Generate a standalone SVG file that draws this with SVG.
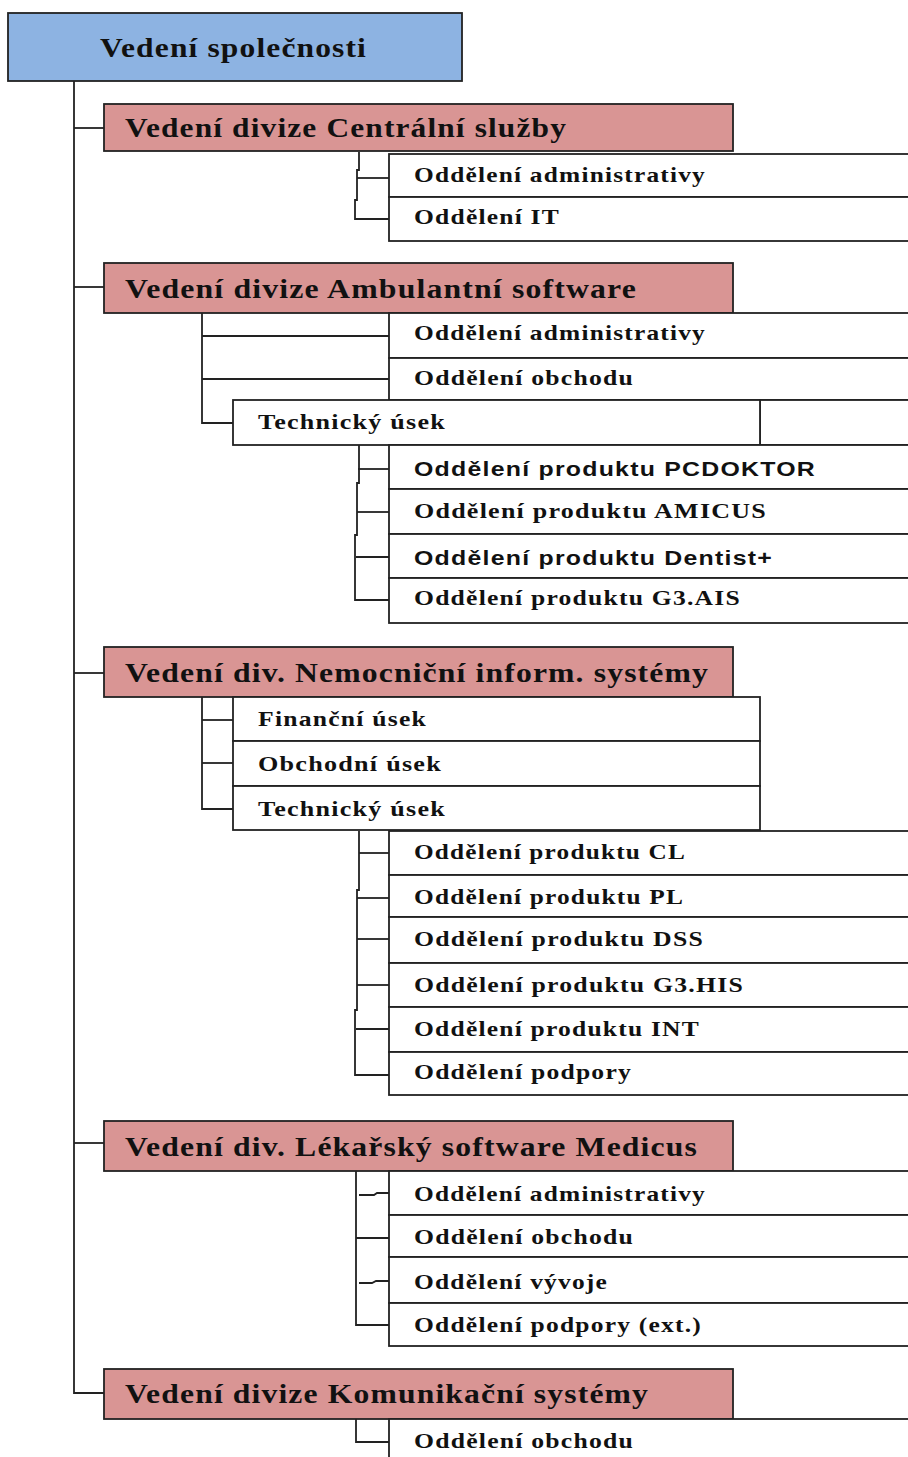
<svg xmlns="http://www.w3.org/2000/svg" width="908" height="1457" viewBox="0 0 908 1457">
<style>
.box{fill:#ffffff;stroke:#222;stroke-width:1.8}
.top{fill:#8db3e2;stroke:#222;stroke-width:1.8}
.div{fill:#d99594;stroke:#222;stroke-width:1.8}
.ln{fill:none;stroke:#222;stroke-width:1.8}
.t1{font-family:"Liberation Serif","Times New Roman",serif;font-weight:bold;font-size:28px;letter-spacing:1px;fill:#111}
.t2{font-family:"Liberation Serif","Times New Roman",serif;font-weight:bold;font-size:21px;letter-spacing:1px;fill:#111}
.t3{font-family:"Liberation Sans",Arial,sans-serif;font-weight:bold;font-size:20px;letter-spacing:1px;fill:#111}
</style>
<rect width="908" height="1457" fill="#ffffff"/>
<g id="connectors">
<path class="ln" d="M74 81 V1393 H104"/>
<path class="ln" d="M74 128 H104"/>
<path class="ln" d="M74 287 H104"/>
<path class="ln" d="M74 673 H104"/>
<path class="ln" d="M74 1143 H104"/>
<path class="ln" d="M359 152 V170 H357 V200 H355 V219 H389"/>
<path class="ln" d="M357 178 H389"/>
<path class="ln" d="M202 313 V423 H233"/>
<path class="ln" d="M202 336 H389"/>
<path class="ln" d="M202 379 H389"/>
<path class="ln" d="M359 445 V483 H357 V535 H355 V600 H389"/>
<path class="ln" d="M358 469 H389"/>
<path class="ln" d="M357 512 H389"/>
<path class="ln" d="M356 557 H389"/>
<path class="ln" d="M202 697 V809 H233"/>
<path class="ln" d="M202 720 H233"/>
<path class="ln" d="M202 763 H233"/>
<path class="ln" d="M359 831 V890 H357 V1010 H355 V1075 H389"/>
<path class="ln" d="M359 853 H389"/>
<path class="ln" d="M357 898 H389"/>
<path class="ln" d="M357 939 H389"/>
<path class="ln" d="M357 985 H389"/>
<path class="ln" d="M356 1029 H389"/>
<path class="ln" d="M356 1171 V1325 H389"/>
<path class="ln" d="M359 1195 H374 L377 1193 H389"/>
<path class="ln" d="M356 1238 H389"/>
<path class="ln" d="M359 1283 H372 L376 1281 H389"/>
<path class="ln" d="M356 1419 V1442 H389"/>
</g>
<g id="n-vedeni">
<rect class="top" x="8" y="13" width="454" height="68"/>
<text class="t1" x="100" y="57" textLength="267" lengthAdjust="spacingAndGlyphs">Vedení společnosti</text>
</g>
<g id="n-centralni">
<rect class="div" x="104" y="104" width="629" height="47"/>
<text class="t1" x="125" y="137" textLength="442" lengthAdjust="spacingAndGlyphs">Vedení divize Centrální služby</text>
</g>
<g id="n-cs-admin">
<rect class="box" x="389" y="154" width="540" height="43"/>
<text class="t2" x="414" y="182" textLength="292" lengthAdjust="spacingAndGlyphs">Oddělení administrativy</text>
</g>
<g id="n-cs-it">
<rect class="box" x="389" y="197" width="540" height="44"/>
<text class="t2" x="414" y="224" textLength="146" lengthAdjust="spacingAndGlyphs">Oddělení IT</text>
</g>
<g id="n-ambulantni">
<rect class="div" x="104" y="263" width="629" height="50"/>
<text class="t1" x="125" y="298" textLength="512" lengthAdjust="spacingAndGlyphs">Vedení divize Ambulantní software</text>
</g>
<g id="n-as-admin">
<rect class="box" x="389" y="313" width="540" height="45"/>
<text class="t2" x="414" y="340" textLength="292" lengthAdjust="spacingAndGlyphs">Oddělení administrativy</text>
</g>
<g id="n-as-obchod">
<rect class="box" x="389" y="358" width="540" height="42"/>
<text class="t2" x="414" y="385" textLength="220" lengthAdjust="spacingAndGlyphs">Oddělení obchodu</text>
</g>
<g id="n-as-tech">
<rect class="box" x="760" y="400" width="169" height="45"/>
<rect class="box" x="233" y="400" width="527" height="45"/>
<text class="t2" x="258" y="429" textLength="188" lengthAdjust="spacingAndGlyphs">Technický úsek</text>
</g>
<g id="n-as-pcdoktor">
<rect class="box" x="389" y="445" width="540" height="44"/>
<text class="t3" x="414" y="476" textLength="402" lengthAdjust="spacingAndGlyphs">Oddělení produktu PCDOKTOR</text>
</g>
<g id="n-as-amicus">
<rect class="box" x="389" y="489" width="540" height="45"/>
<text class="t2" x="414" y="518" textLength="353" lengthAdjust="spacingAndGlyphs">Oddělení produktu AMICUS</text>
</g>
<g id="n-as-dentist">
<rect class="box" x="389" y="534" width="540" height="44"/>
<text class="t3" x="414" y="565" textLength="359" lengthAdjust="spacingAndGlyphs">Oddělení produktu Dentist+</text>
</g>
<g id="n-as-g3ais">
<rect class="box" x="389" y="578" width="540" height="45"/>
<text class="t2" x="414" y="605" textLength="327" lengthAdjust="spacingAndGlyphs">Oddělení produktu G3.AIS</text>
</g>
<g id="n-nemocnicni">
<rect class="div" x="104" y="647" width="629" height="50"/>
<text class="t1" x="125" y="682" textLength="584" lengthAdjust="spacingAndGlyphs">Vedení div. Nemocniční inform. systémy</text>
</g>
<g id="n-nis-fin">
<rect class="box" x="233" y="697" width="527" height="44"/>
<text class="t2" x="258" y="726" textLength="169" lengthAdjust="spacingAndGlyphs">Finanční úsek</text>
</g>
<g id="n-nis-obch">
<rect class="box" x="233" y="741" width="527" height="45"/>
<text class="t2" x="258" y="771" textLength="184" lengthAdjust="spacingAndGlyphs">Obchodní úsek</text>
</g>
<g id="n-nis-tech">
<rect class="box" x="233" y="786" width="527" height="44"/>
<text class="t2" x="258" y="816" textLength="188" lengthAdjust="spacingAndGlyphs">Technický úsek</text>
</g>
<g id="n-nis-cl">
<rect class="box" x="389" y="831" width="540" height="44"/>
<text class="t2" x="414" y="859" textLength="272" lengthAdjust="spacingAndGlyphs">Oddělení produktu CL</text>
</g>
<g id="n-nis-pl">
<rect class="box" x="389" y="875" width="540" height="42"/>
<text class="t2" x="414" y="904" textLength="270" lengthAdjust="spacingAndGlyphs">Oddělení produktu PL</text>
</g>
<g id="n-nis-dss">
<rect class="box" x="389" y="917" width="540" height="46"/>
<text class="t2" x="414" y="946" textLength="290" lengthAdjust="spacingAndGlyphs">Oddělení produktu DSS</text>
</g>
<g id="n-nis-g3his">
<rect class="box" x="389" y="963" width="540" height="44"/>
<text class="t2" x="414" y="992" textLength="330" lengthAdjust="spacingAndGlyphs">Oddělení produktu G3.HIS</text>
</g>
<g id="n-nis-int">
<rect class="box" x="389" y="1007" width="540" height="45"/>
<text class="t2" x="414" y="1036" textLength="286" lengthAdjust="spacingAndGlyphs">Oddělení produktu INT</text>
</g>
<g id="n-nis-podpora">
<rect class="box" x="389" y="1052" width="540" height="43"/>
<text class="t2" x="414" y="1079" textLength="218" lengthAdjust="spacingAndGlyphs">Oddělení podpory</text>
</g>
<g id="n-medicus">
<rect class="div" x="104" y="1121" width="629" height="50"/>
<text class="t1" x="125" y="1156" textLength="573" lengthAdjust="spacingAndGlyphs">Vedení div. Lékařský software Medicus</text>
</g>
<g id="n-med-admin">
<rect class="box" x="389" y="1171" width="540" height="44"/>
<text class="t2" x="414" y="1201" textLength="292" lengthAdjust="spacingAndGlyphs">Oddělení administrativy</text>
</g>
<g id="n-med-obchod">
<rect class="box" x="389" y="1215" width="540" height="42"/>
<text class="t2" x="414" y="1244" textLength="220" lengthAdjust="spacingAndGlyphs">Oddělení obchodu</text>
</g>
<g id="n-med-vyvoj">
<rect class="box" x="389" y="1257" width="540" height="46"/>
<text class="t2" x="414" y="1289" textLength="194" lengthAdjust="spacingAndGlyphs">Oddělení vývoje</text>
</g>
<g id="n-med-podpora">
<rect class="box" x="389" y="1303" width="540" height="43"/>
<text class="t2" x="414" y="1332" textLength="288" lengthAdjust="spacingAndGlyphs">Oddělení podpory (ext.)</text>
</g>
<g id="n-komunikacni">
<rect class="div" x="104" y="1369" width="629" height="50"/>
<text class="t1" x="125" y="1403" textLength="524" lengthAdjust="spacingAndGlyphs">Vedení divize Komunikační systémy</text>
</g>
<g id="n-kom-obchod">
<rect class="box" x="389" y="1419" width="540" height="60"/>
<text class="t2" x="414" y="1448" textLength="220" lengthAdjust="spacingAndGlyphs">Oddělení obchodu</text>
</g>
</svg>
